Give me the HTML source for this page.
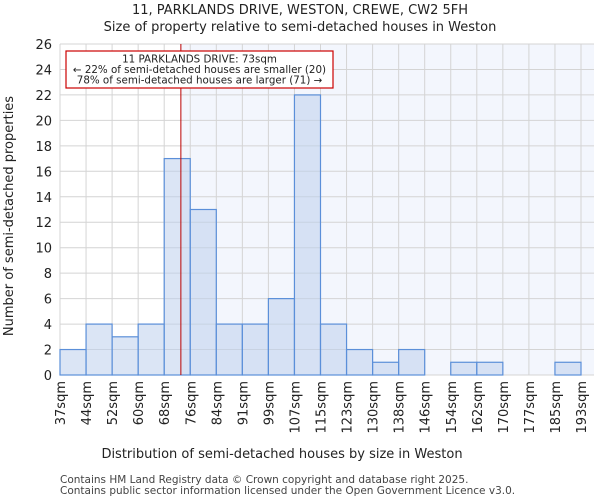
<!DOCTYPE html>
<html><head><meta charset="utf-8"><style>
body{margin:0;background:#fff;font-family:"DejaVu Sans","Liberation Sans",sans-serif}
</style></head><body>
<svg id="c" width="600" height="500" xmlns="http://www.w3.org/2000/svg" font-family="DejaVu Sans, Liberation Sans, sans-serif">
<text x="300" y="14" text-anchor="middle" font-size="13" fill="#222">11, PARKLANDS DRIVE, WESTON, CREWE, CW2 5FH</text>
<text x="300" y="31" text-anchor="middle" font-size="13" fill="#222">Size of property relative to semi-detached houses in Weston</text>
<g id="plot"></g>
<text x="282" y="458" text-anchor="middle" font-size="13" fill="#222">Distribution of semi-detached houses by size in Weston</text>
<text transform="translate(13,216) rotate(-90)" text-anchor="middle" font-size="13" fill="#222">Number of semi-detached properties</text>
<text x="60" y="483" font-size="10.5" fill="#444">Contains HM Land Registry data © Crown copyright and database right 2025.</text>
<text x="60" y="494" font-size="10.5" fill="#444">Contains public sector information licensed under the Open Government Licence v3.0.</text>
</svg>
<script>
const binLabels=["37sqm","44sqm","52sqm","60sqm","68sqm","76sqm","84sqm","91sqm","99sqm","107sqm","115sqm","123sqm","130sqm","138sqm","146sqm","154sqm","162sqm","170sqm","177sqm","185sqm","193sqm"];
const counts=[2,4,3,4,17,13,4,4,6,22,4,2,1,2,0,1,1,0,0,1];
const yTicks=[0,2,4,6,8,10,12,14,16,18,20,22,24,26];
const markerBin=4.64;
const NS="http://www.w3.org/2000/svg";
const L=60,R=581,T=44,B=375,yMax=26,PR=594;
const bw=(R-L)/counts.length;
const x=i=>L+i*bw, y=v=>B-(v/yMax)*(B-T);
const g=document.getElementById('plot');
function mk(t,a){const e=document.createElementNS(NS,t);for(const k in a)e.setAttribute(k,a[k]);g.appendChild(e);return e;}
let e=mk('rect',{x:x(markerBin),y:T,width:PR-x(markerBin),height:B-T,fill:'#f3f6fd'});


yTicks.forEach(v=>{let l=mk('line',{x1:L,x2:PR,y1:y(v),y2:y(v),stroke:'#d4d4d4','stroke-width':1});


let t=mk('text',{x:L-8,y:y(v)+5,'text-anchor':'end','font-size':13,fill:'#222'});t.textContent=v;

});
binLabels.forEach((s,i)=>{let l=mk('line',{x1:x(i),x2:x(i),y1:T,y2:B,stroke:'#d4d4d4','stroke-width':1});


let t=mk('text',{transform:`translate(${x(i)+5},${B+6}) rotate(-90)`,'text-anchor':'end','font-size':13,fill:'#222'});t.textContent=s;

});
counts.forEach((c,i)=>{if(!c)return;let r=mk('rect',{x:x(i),y:y(c),width:bw,height:B-y(c),fill:'rgba(190,208,236,0.55)',stroke:'#5b8fd9','stroke-width':1.2});

});
let m=mk('line',{x1:x(markerBin),x2:x(markerBin),y1:T,y2:B,stroke:'#b00','stroke-width':1});


let bx=mk('rect',{x:66,y:51,width:267,height:37,fill:'#fff',stroke:'#c00','stroke-width':1.2});


["11 PARKLANDS DRIVE: 73sqm","← 22% of semi-detached houses are smaller (20)","78% of semi-detached houses are larger (71) →"].forEach((s,i)=>{
let t=mk('text',{x:199.5,y:62.5+i*10.5,'text-anchor':'middle','font-size':10.3,fill:'#222'});t.textContent=s;

});
</script>
</body></html>
